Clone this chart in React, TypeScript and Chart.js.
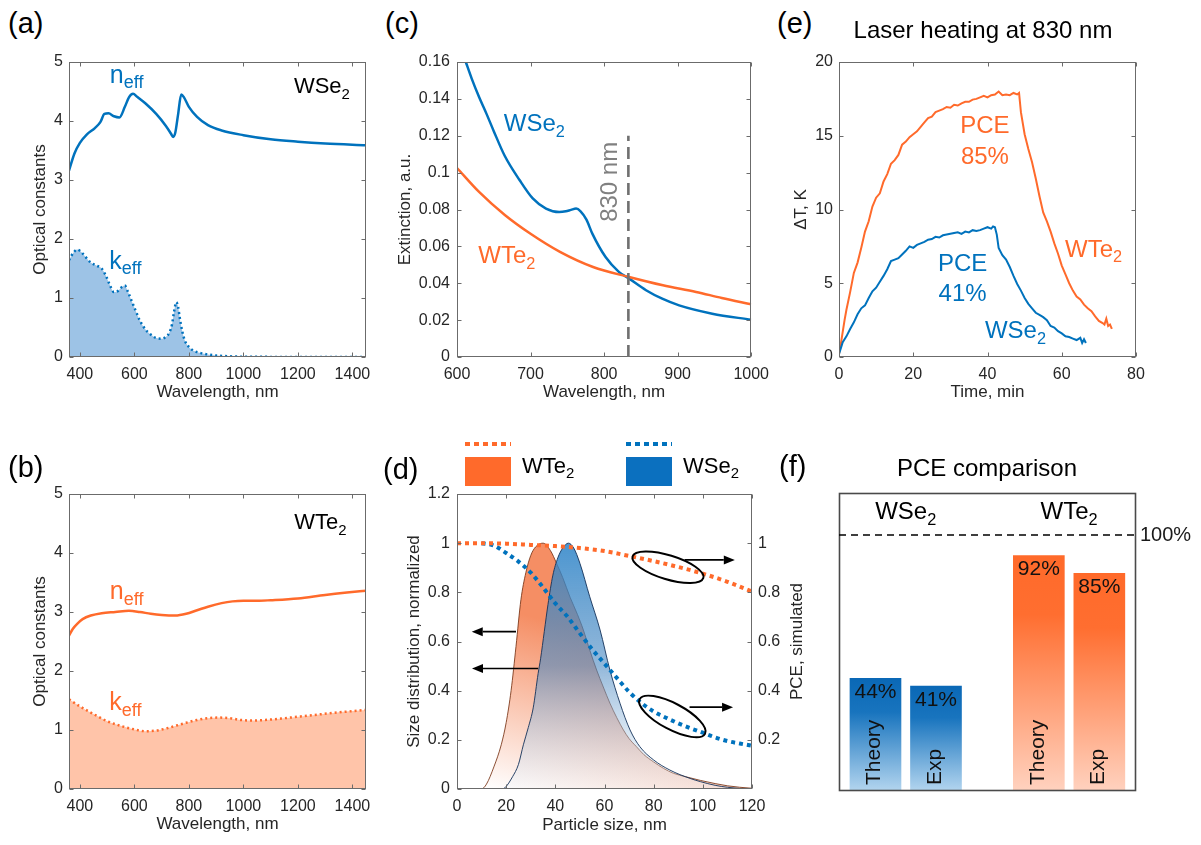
import React, { useEffect, useRef } from 'react';
import { Chart, registerables } from 'chart.js';

Chart.register(...registerables);

const FONT = "'Liberation Sans', Arial, Helvetica, sans-serif";
Chart.defaults.font.family = FONT;

const BLUE = '#0072BD';
const ORANGE = '#FF6A2B';
const AXIS = '#6b6b6b';
const TICK = '#262626';

// ---------------- (a) WSe2 optical constants ----------------
const wlNWSe2 = [360, 380, 400, 425, 455, 475, 490, 505, 525, 545, 565, 580, 595, 610, 640, 680, 715, 735, 742, 750, 760, 772, 782, 800, 830, 870, 920, 1000, 1100, 1200, 1300, 1450];
const nWSe2 = [3.16, 3.45, 3.63, 3.77, 3.88, 3.98, 4.12, 4.13, 4.08, 4.06, 4.24, 4.40, 4.46, 4.41, 4.30, 4.12, 3.92, 3.78, 3.73, 3.8, 4.1, 4.45, 4.40, 4.24, 4.07, 3.93, 3.84, 3.76, 3.69, 3.65, 3.62, 3.59];
const wlKWSe2 = [360, 375, 390, 405, 420, 440, 460, 480, 495, 510, 525, 540, 555, 565, 575, 590, 605, 620, 640, 660, 680, 700, 715, 728, 738, 746, 754, 760, 766, 775, 785, 800, 820, 850, 900, 950, 1000, 1100, 1450];
const kWSe2 = [1.64, 1.76, 1.82, 1.78, 1.70, 1.60, 1.55, 1.50, 1.38, 1.22, 1.10, 1.12, 1.19, 1.21, 1.12, 0.95, 0.78, 0.62, 0.47, 0.38, 0.32, 0.31, 0.34, 0.41, 0.55, 0.78, 0.93, 0.86, 0.68, 0.45, 0.28, 0.17, 0.1, 0.06, 0.025, 0.012, 0.005, 0.002, 0];

// ---------------- (b) WTe2 optical constants ----------------
const wlNWTe2 = [360, 375, 390, 410, 440, 480, 530, 580, 620, 660, 700, 750, 790, 830, 870, 920, 960, 1000, 1050, 1100, 1200, 1300, 1380, 1450];
const nWTe2 = [2.6, 2.72, 2.8, 2.88, 2.94, 2.98, 3.0, 3.02, 3.0, 2.97, 2.95, 2.94, 2.97, 3.03, 3.09, 3.15, 3.18, 3.19, 3.19, 3.2, 3.23, 3.29, 3.33, 3.36];
const wlKWTe2 = [360, 400, 450, 500, 550, 600, 640, 680, 720, 780, 830, 870, 910, 950, 990, 1030, 1080, 1150, 1210, 1270, 1330, 1400, 1450];
const kWTe2 = [1.52, 1.4, 1.27, 1.15, 1.07, 1.01, 0.98, 0.99, 1.03, 1.11, 1.17, 1.2, 1.21, 1.2, 1.17, 1.16, 1.17, 1.2, 1.23, 1.26, 1.29, 1.32, 1.34];

const wlTicks = [400, 600, 800, 1000, 1200, 1400];
const optTicks = [0, 1, 2, 3, 4, 5];

// ---------------- (c) extinction ----------------
const wlExtWSe2 = [605, 612, 620, 630, 640, 650, 665, 685, 703, 721, 739, 748, 755, 762, 768, 776, 784, 802, 820, 834, 857, 879, 902, 947, 1000];
const extWSe2 = [0.168, 0.160, 0.151, 0.141, 0.132, 0.1225, 0.109, 0.096, 0.086, 0.0805, 0.0786, 0.079, 0.0798, 0.0805, 0.079, 0.0745, 0.0669, 0.0542, 0.0462, 0.0425, 0.0362, 0.0316, 0.028, 0.0235, 0.0202];
const wlExtWTe2 = [600, 630, 665, 700, 740, 785, 834, 880, 925, 960, 1000];
const extWTe2 = [0.1025, 0.0895, 0.077, 0.0668, 0.057, 0.0488, 0.0434, 0.0389, 0.0353, 0.032, 0.0286];
const laserWl = 833;
const extXTicks = [600, 700, 800, 900, 1000];
const extYTicks = [0, 0.02, 0.04, 0.06, 0.08, 0.1, 0.12, 0.14, 0.16];

// ---------------- (d) size distribution and simulated PCE ----------------
const sizeWTe2 = [0, 10, 12, 15, 18, 20, 22, 24, 26, 28, 30, 32, 35, 38, 40.5, 43, 46, 49, 51.4, 54, 56.8, 59.5, 62.2, 65, 67.7, 70, 73, 76, 80, 84, 88, 93, 99, 105, 110, 115, 120];
const distWTe2 = [0, 0, 0.02, 0.09, 0.18, 0.27, 0.4, 0.58, 0.77, 0.88, 0.95, 0.985, 1.0, 0.97, 0.918, 0.86, 0.78, 0.71, 0.647, 0.565, 0.484, 0.415, 0.349, 0.29, 0.24, 0.205, 0.172, 0.14, 0.11, 0.084, 0.064, 0.05, 0.035, 0.022, 0.013, 0.007, 0.003];
const sizeWSe2 = [0, 18, 19.5, 22.6, 25, 27, 29, 31, 33, 34, 35.5, 37, 39, 41, 43, 45.3, 47.5, 50, 54, 58.2, 62.2, 66.3, 70.4, 74.4, 80, 86.6, 94.8, 99, 105, 110, 115, 120];
const distWSe2 = [0, 0, 0.005, 0.05, 0.1, 0.18, 0.25, 0.33, 0.47, 0.53, 0.64, 0.75, 0.87, 0.94, 0.98, 1.0, 0.98, 0.918, 0.782, 0.647, 0.484, 0.349, 0.24, 0.172, 0.118, 0.077, 0.043, 0.03, 0.015, 0.007, 0.002, 0];
const sizePceWTe2 = [0, 10, 20, 30, 40, 50, 60, 70, 80, 90, 100, 110, 120];
const pceSimWTe2 = [1.0, 1.0, 0.998, 0.993, 0.988, 0.98, 0.968, 0.948, 0.927, 0.903, 0.876, 0.843, 0.803];
const sizePceWSe2 = [10, 15, 20, 25, 30, 35, 40, 45, 50, 55, 60, 65, 70, 75, 80, 85, 90, 95, 100, 105, 110, 115, 120];
const pceSimWSe2 = [1.0, 0.99, 0.96, 0.925, 0.88, 0.82, 0.755, 0.7, 0.633, 0.568, 0.51, 0.452, 0.395, 0.35, 0.315, 0.29, 0.267, 0.247, 0.229, 0.21, 0.195, 0.185, 0.176];
const sizeTicks = [0, 20, 40, 60, 80, 100, 120];
const distTicks = [0, 0.2, 0.4, 0.6, 0.8, 1, 1.2];
const pceSimTicks = [0.2, 0.4, 0.6, 0.8, 1];

// ---------------- (e) laser heating ----------------
const timeWTe2 = [0, 0.5, 1, 1.5, 2, 3, 4, 5, 6, 7, 8, 9, 10, 11, 12, 13, 14, 15, 16, 17, 18, 19, 20, 21, 22, 23, 24, 25, 26, 27, 28, 29, 30, 31, 32, 33, 34, 35, 36, 37, 38, 39, 40, 41, 42, 43, 44, 45, 46, 47, 48, 48.5, 49, 50, 51, 52, 53, 54, 55, 56, 57, 58, 59, 60, 61, 62, 63, 64, 65, 66, 67, 68, 69, 70, 71, 71.5, 72, 72.5, 73, 73.5];
const dTWTe2 = [0.2, 0.9, 1.7, 2.5, 3.2, 4.4, 5.7, 6.4, 7.4, 8.5, 9.2, 10.2, 10.8, 11.1, 11.9, 12.4, 13.1, 13.35, 13.7, 14.4, 14.6, 14.9, 15.1, 15.3, 15.6, 15.9, 16.2, 16.3, 16.6, 16.7, 16.8, 16.95, 16.9, 17.1, 17.05, 17.2, 17.3, 17.3, 17.45, 17.5, 17.6, 17.7, 17.6, 17.75, 17.8, 18.0, 17.75, 17.8, 17.75, 17.9, 17.8, 17.9, 16.6, 15.1, 14.1, 13.2, 12.1, 10.9, 9.8, 9.2, 8.5, 7.7, 7.0, 6.2, 5.6, 5.0, 4.5, 4.1, 3.9, 3.55, 3.3, 3.1, 2.75, 2.45, 2.3, 2.2, 2.6, 2.1, 2.2, 1.9];
const timeWSe2 = [0, 0.5, 1, 2, 3, 4, 5, 6, 7, 8, 9, 10, 11, 12, 13, 14, 15, 16, 17, 18, 19, 20, 21, 22, 23, 24, 25, 26, 27, 28, 29, 30, 31, 32, 33, 34, 35, 36, 37, 38, 39, 40, 41, 41.5, 42, 42.5, 43, 44, 45, 46, 47, 48, 49, 50, 51, 52, 53, 54, 55, 56, 57, 58, 59, 60, 61, 62, 63, 64, 65, 65.5, 66, 66.5];
const dTWSe2 = [0.2, 0.6, 1.0, 1.4, 1.9, 2.35, 2.9, 3.3, 3.5, 4.0, 4.45, 4.7, 5.1, 5.5, 5.95, 6.5, 6.6, 6.7, 6.95, 7.2, 7.5, 7.4, 7.6, 7.7, 7.8, 7.95, 8.0, 8.15, 8.1, 8.25, 8.3, 8.35, 8.4, 8.45, 8.35, 8.5, 8.45, 8.6, 8.55, 8.6, 8.7, 8.8, 8.7, 8.85, 8.8, 8.3, 7.4, 6.9, 6.6, 6.1, 5.5, 4.95, 4.5, 4.0, 3.6, 3.3, 3.0, 2.85, 2.7, 2.5, 2.1, 2.0, 1.75, 1.6, 1.4, 1.35, 1.25, 1.15, 1.3, 0.95, 1.2, 0.95];
const timeTicks = [0, 20, 40, 60, 80];
const dTTicks = [0, 5, 10, 15, 20];

// ---------------- (f) PCE comparison ----------------
const pceMaterials = ['WSe2', 'WSe2', 'WTe2', 'WTe2'];
const pceCategories = ['Theory', 'Exp', 'Theory', 'Exp'];
const pcePositions = [0, 1, 2.7, 3.7];
const pceValues = [44, 41, 92, 85];

// ---------------- helpers ----------------
const pts = (xs: number[], ys: number[]) => xs.map((x, i) => ({ x, y: ys[i] }));
const fmt = (v: number) => String(Math.round(v * 10000) / 10000);

function axis(o: any) {
  return {
    type: 'linear',
    position: o.position,
    min: o.min,
    max: o.max,
    offset: false,
    afterBuildTicks: (s: any) => {
      s.ticks = o.ticks.map((v: number) => ({ value: v }));
    },
    ticks: {
      color: TICK,
      font: { family: FONT, size: 16 },
      padding: o.pad,
      maxRotation: 0,
      minRotation: 0,
      autoSkip: false,
      callback: (v: any) => fmt(Number(v)),
    },
    grid: { display: false, drawTicks: false },
    border: { display: false },
    title: o.title
      ? { display: true, text: o.title, color: TICK, font: { family: FONT, size: 17 }, padding: 0 }
      : { display: false },
    afterFit: (s: any) => {
      if (o.horizontal) s.height = o.size;
      else s.width = o.size;
    },
  };
}

function framePlugin(yRightId?: string) {
  return {
    id: 'frame',
    afterDatasetsDraw(chart: any) {
      const { ctx, chartArea: a, scales } = chart;
      const TL = 4;
      const L = Math.round(a.left) + 0.5;
      const R = Math.round(a.right) - 0.5;
      const T = Math.round(a.top) + 0.5;
      const B = Math.round(a.bottom) - 0.5;
      ctx.save();
      ctx.strokeStyle = AXIS;
      ctx.lineWidth = 1;
      ctx.setLineDash([]);
      ctx.strokeRect(L, T, R - L, B - T);
      ctx.beginPath();
      const xs = scales.x;
      xs.ticks.forEach((t: any) => {
        const p = Math.round(xs.getPixelForValue(t.value)) + 0.5;
        ctx.moveTo(p, B);
        ctx.lineTo(p, B - TL);
        ctx.moveTo(p, T);
        ctx.lineTo(p, T + TL);
      });
      const yl = scales.y;
      const yr = yRightId ? scales[yRightId] : yl;
      yl.ticks.forEach((t: any) => {
        const p = Math.round(yl.getPixelForValue(t.value)) + 0.5;
        ctx.moveTo(L, p);
        ctx.lineTo(L + TL, p);
      });
      yr.ticks.forEach((t: any) => {
        const p = Math.round(yr.getPixelForValue(t.value)) + 0.5;
        ctx.moveTo(R, p);
        ctx.lineTo(R - TL, p);
      });
      ctx.stroke();
      ctx.restore();
    },
  };
}

function subText(ctx: any, base: string, sub: string, x: number, y: number, size: number, color: string, align = 'left', subScale = 0.68, drop = 0.24) {
  ctx.save();
  ctx.fillStyle = color;
  ctx.textBaseline = 'alphabetic';
  ctx.textAlign = 'left';
  ctx.font = `${size}px ${FONT}`;
  const wb = ctx.measureText(base).width;
  ctx.font = `${size * subScale}px ${FONT}`;
  const ws = sub ? ctx.measureText(sub).width : 0;
  const total = wb + ws;
  const x0 = align === 'left' ? x : align === 'center' ? x - total / 2 : x - total;
  ctx.font = `${size}px ${FONT}`;
  ctx.fillText(base, x0, y);
  if (sub) {
    ctx.font = `${size * subScale}px ${FONT}`;
    ctx.fillText(sub, x0 + wb, y + size * drop);
  }
  ctx.restore();
}

function plainText(ctx: any, text: string, x: number, y: number, size: number, color: string, align = 'center', baseline = 'alphabetic') {
  ctx.save();
  ctx.fillStyle = color;
  ctx.font = `${size}px ${FONT}`;
  ctx.textAlign = align;
  ctx.textBaseline = baseline;
  ctx.fillText(text, x, y);
  ctx.restore();
}

function arrow(ctx: any, x1: number, y1: number, x2: number, y2: number) {
  const ang = Math.atan2(y2 - y1, x2 - x1);
  const hl = 11;
  const hw = 4.5;
  const c = Math.cos(ang);
  const s = Math.sin(ang);
  ctx.beginPath();
  ctx.moveTo(x1, y1);
  ctx.lineTo(x2 - hl * c, y2 - hl * s);
  ctx.stroke();
  ctx.beginPath();
  ctx.moveTo(x2, y2);
  ctx.lineTo(x2 - hl * c + hw * s, y2 - hl * s - hw * c);
  ctx.lineTo(x2 - hl * c - hw * s, y2 - hl * s + hw * c);
  ctx.closePath();
  ctx.fill();
}

const baseOptions = (padding: any, scales: any) => ({
  responsive: false,
  maintainAspectRatio: false,
  animation: false,
  events: [],
  layout: { padding },
  plugins: { legend: { display: false }, tooltip: { enabled: false }, title: { display: false } },
  scales,
  elements: { point: { radius: 0 } },
});

const lineDs = (data: any, color: string, extra: any = {}) => ({
  data,
  borderColor: color,
  borderWidth: 2.5,
  pointRadius: 0,
  fill: false,
  cubicInterpolationMode: 'monotone',
  ...extra,
});

// ---------------- panel geometry ----------------
type Geo = { L: number; T: number; R: number; B: number; yw: number; xh: number; pt: number; pr: number };
const geoA: Geo = { L: 69, T: 62, R: 366, B: 357, yw: 39, xh: 46, pt: 20, pr: 25 };
const geoB: Geo = { L: 69, T: 494, R: 366, B: 789, yw: 39, xh: 46, pt: 20, pr: 25 };
const geoC: Geo = { L: 457, T: 62, R: 752, B: 357, yw: 62, xh: 46, pt: 20, pr: 25 };
const geoD: Geo = { L: 457, T: 494, R: 752, B: 789, yw: 53, xh: 47, pt: 60, pr: 60 };
const geoE: Geo = { L: 839, T: 62, R: 1136, B: 357, yw: 48, xh: 46, pt: 20, pr: 25 };
const geoF: Geo = { L: 839, T: 493, R: 1136, B: 791, yw: 10, xh: 10, pt: 10, pr: 62 };

// ---------------- chart builders ----------------
function buildOptical(which: 'a' | 'b') {
  const isA = which === 'a';
  const color = isA ? BLUE : ORANGE;
  const fillColor = isA ? '#9DC3E6' : '#FFC4A9';
  const g = isA ? geoA : geoB;
  const kData = isA ? pts(wlKWSe2, kWSe2) : pts(wlKWTe2, kWTe2);
  const nData = isA ? pts(wlNWSe2, nWSe2) : pts(wlNWTe2, nWTe2);
  const ann = {
    id: 'ann',
    afterDraw(chart: any) {
      const { ctx, scales } = chart;
      const X = (v: number) => scales.x.getPixelForValue(v);
      const Y = (v: number) => scales.y.getPixelForValue(v);
      if (isA) {
        subText(ctx, 'n', 'eff', X(510), Y(4.65), 25, color, 'left', 0.72, 0.23);
        subText(ctx, 'k', 'eff', X(508), Y(1.5), 25, color, 'left', 0.72, 0.23);
        subText(ctx, 'WSe', '2', X(1391), Y(4.47), 22, '#000', 'right');
      } else {
        subText(ctx, 'n', 'eff', X(510), Y(3.215), 25, color, 'left', 0.72, 0.23);
        subText(ctx, 'k', 'eff', X(508), Y(1.34), 25, color, 'left', 0.72, 0.23);
        subText(ctx, 'WTe', '2', X(1379), Y(4.4), 22, '#000', 'right');
      }
    },
  };
  return {
    type: 'line',
    data: {
      datasets: [
        lineDs(kData, color, { borderDash: [2, 3], fill: 'origin', backgroundColor: fillColor, borderWidth: 2.5 }),
        lineDs(nData, color),
      ],
    },
    options: baseOptions({ top: g.pt, right: g.pr, left: 0, bottom: 0 }, {
      x: axis({ min: 360, max: 1450, ticks: wlTicks, title: 'Wavelength, nm', size: g.xh, horizontal: true, position: 'bottom', pad: 8 }),
      y: axis({ min: 0, max: 5, ticks: optTicks, title: 'Optical constants', size: g.yw, horizontal: false, position: 'left', pad: 6 }),
    }),
    plugins: [framePlugin(), ann],
  };
}

function buildExtinction() {
  const g = geoC;
  const ann = {
    id: 'ann',
    afterDraw(chart: any) {
      const { ctx, scales } = chart;
      const X = (v: number) => scales.x.getPixelForValue(v);
      const Y = (v: number) => scales.y.getPixelForValue(v);
      ctx.save();
      ctx.strokeStyle = '#707070';
      ctx.lineWidth = 2.6;
      ctx.setLineDash([12, 6]);
      ctx.beginPath();
      ctx.moveTo(X(laserWl), Y(0));
      ctx.lineTo(X(laserWl), Y(0.12));
      ctx.stroke();
      ctx.restore();
      ctx.save();
      ctx.translate(X(808.4), Y(0.095));
      ctx.rotate(-Math.PI / 2);
      plainText(ctx, '830 nm', 0, 0, 24, '#808080', 'center', 'middle');
      ctx.restore();
      subText(ctx, 'WSe', '2', X(663.7), Y(0.1227), 24, BLUE, 'left');
      subText(ctx, 'WTe', '2', X(628.9), Y(0.0508), 24, ORANGE, 'left');
    },
  };
  return {
    type: 'line',
    data: {
      datasets: [lineDs(pts(wlExtWTe2, extWTe2), ORANGE), lineDs(pts(wlExtWSe2, extWSe2), BLUE)],
    },
    options: baseOptions({ top: g.pt, right: g.pr, left: 0, bottom: 0 }, {
      x: axis({ min: 600, max: 1000, ticks: extXTicks, title: 'Wavelength, nm', size: g.xh, horizontal: true, position: 'bottom', pad: 8 }),
      y: axis({ min: 0, max: 0.16, ticks: extYTicks, title: 'Extinction, a.u.', size: g.yw, horizontal: false, position: 'left', pad: 7 }),
    }),
    plugins: [framePlugin(), ann],
  };
}

function buildSize() {
  const g = geoD;
  const orangeFill = (c: any) => {
    const ch = c.chart;
    if (!ch.chartArea) return 'rgba(0,0,0,0)';
    const xs = ch.scales.x;
    const ys = ch.scales.y;
    const gr = ch.ctx.createLinearGradient(xs.getPixelForValue(12), ys.getPixelForValue(0), xs.getPixelForValue(31), ys.getPixelForValue(0.7));
    gr.addColorStop(0, 'rgba(255,255,255,1)');
    gr.addColorStop(1, '#F58E64');
    return gr;
  };
  const blueFill = (c: any) => {
    const ch = c.chart;
    if (!ch.chartArea) return 'rgba(0,0,0,0)';
    const ys = ch.scales.y;
    const gr = ch.ctx.createLinearGradient(0, ys.getPixelForValue(1), 0, ys.getPixelForValue(0));
    gr.addColorStop(0, 'rgba(45,132,200,0.86)');
    gr.addColorStop(0.5, 'rgba(80,140,195,0.62)');
    gr.addColorStop(1, 'rgba(240,246,252,0.3)');
    return gr;
  };
  const ann = {
    id: 'ann',
    afterDraw(chart: any) {
      const { ctx, scales, chartArea: a } = chart;
      const X = (v: number) => scales.x.getPixelForValue(v);
      const Y = (v: number) => scales.y.getPixelForValue(v);
      ctx.save();
      ctx.strokeStyle = '#000';
      ctx.fillStyle = '#000';
      ctx.lineWidth = 1.6;
      arrow(ctx, X(24), Y(0.64), X(6), Y(0.64));
      arrow(ctx, X(33), Y(0.49), X(6.1), Y(0.49));
      arrow(ctx, X(92.6), Y(0.932), X(113), Y(0.932));
      arrow(ctx, X(94.6), Y(0.333), X(112.3), Y(0.333));
      ctx.lineWidth = 2;
      ctx.beginPath();
      ctx.ellipse(X(85.8), Y(0.902), 37, 12, (17 * Math.PI) / 180, 0, Math.PI * 2);
      ctx.stroke();
      ctx.beginPath();
      ctx.ellipse(X(87.6), Y(0.295), 37, 13, (28 * Math.PI) / 180, 0, Math.PI * 2);
      ctx.stroke();
      ctx.restore();

      // legend above the plot
      const ly = a.top - 50;
      const legendItems = [
        { dx: 8, line: ORANGE, box: ORANGE, base: 'WTe' },
        { dx: 169, line: BLUE, box: '#0B70BF', base: 'WSe' },
      ];
      legendItems.forEach((it) => {
        const x0 = a.left + it.dx;
        ctx.save();
        ctx.strokeStyle = it.line;
        ctx.lineWidth = 4;
        ctx.setLineDash([5, 4]);
        ctx.beginPath();
        ctx.moveTo(x0, ly);
        ctx.lineTo(x0 + 46, ly);
        ctx.stroke();
        ctx.fillStyle = it.box;
        ctx.fillRect(x0, a.top - 37, 46, 29);
        ctx.restore();
        subText(ctx, it.base, '2', x0 + 57, a.top - 21, 22, '#000', 'left');
      });

      // right axis title, reading bottom-to-top
      ctx.save();
      ctx.translate(a.right + 45.5, (a.top + a.bottom) / 2);
      ctx.rotate(-Math.PI / 2);
      plainText(ctx, 'PCE, simulated', 0, 0, 17, TICK, 'center', 'middle');
      ctx.restore();
    },
  };
  return {
    type: 'line',
    data: {
      datasets: [
        lineDs(pts(sizeWTe2, distWTe2), 'rgba(120,50,20,0.85)', { borderWidth: 1, fill: 'origin', backgroundColor: orangeFill, order: 2, yAxisID: 'y' }),
        lineDs(pts(sizeWSe2, distWSe2), 'rgba(20,50,90,0.9)', { borderWidth: 1, fill: 'origin', backgroundColor: blueFill, order: 1, yAxisID: 'y' }),
        lineDs(pts(sizePceWTe2, pceSimWTe2), ORANGE, { borderWidth: 4, borderDash: [4, 4], borderCapStyle: 'butt', order: 0, yAxisID: 'y1' }),
        lineDs(pts(sizePceWSe2, pceSimWSe2), BLUE, { borderWidth: 4, borderDash: [4, 4], borderCapStyle: 'butt', order: 0, yAxisID: 'y1' }),
      ],
    },
    options: baseOptions({ top: g.pt, right: 0, left: 0, bottom: 0 }, {
      x: axis({ min: 0, max: 120, ticks: sizeTicks, title: 'Particle size, nm', size: g.xh, horizontal: true, position: 'bottom', pad: 8 }),
      y: axis({ min: 0, max: 1.2, ticks: distTicks, title: 'Size distribution, normalized', size: g.yw, horizontal: false, position: 'left', pad: 7 }),
      y1: axis({ min: 0, max: 1.2, ticks: pceSimTicks, title: '', size: g.pr, horizontal: false, position: 'right', pad: 6 }),
    }),
    plugins: [framePlugin('y1'), ann],
  };
}

function buildHeating() {
  const g = geoE;
  const ann = {
    id: 'ann',
    afterDraw(chart: any) {
      const { ctx, scales } = chart;
      const X = (v: number) => scales.x.getPixelForValue(v);
      const Y = (v: number) => scales.y.getPixelForValue(v);
      plainText(ctx, 'PCE', X(39.3), Y(15.2), 24, ORANGE);
      plainText(ctx, '85%', X(39.3), Y(13.1), 24, ORANGE);
      plainText(ctx, 'PCE', X(33.3), Y(5.85), 24, BLUE);
      plainText(ctx, '41%', X(33.3), Y(3.8), 24, BLUE);
      subText(ctx, 'WTe', '2', X(60.9), Y(6.8), 24, ORANGE, 'left');
      subText(ctx, 'WSe', '2', X(39.3), Y(1.27), 24, BLUE, 'left');
    },
  };
  return {
    type: 'line',
    data: {
      datasets: [
        lineDs(pts(timeWSe2, dTWSe2), BLUE, { borderWidth: 2, tension: 0, cubicInterpolationMode: 'default' }),
        lineDs(pts(timeWTe2, dTWTe2), ORANGE, { borderWidth: 2, tension: 0, cubicInterpolationMode: 'default' }),
      ],
    },
    options: baseOptions({ top: g.pt, right: g.pr, left: 0, bottom: 0 }, {
      x: axis({ min: 0, max: 80, ticks: timeTicks, title: 'Time, min', size: g.xh, horizontal: true, position: 'bottom', pad: 8 }),
      y: axis({ min: 0, max: 20, ticks: dTTicks, title: '\u0394T, K', size: g.yw, horizontal: false, position: 'left', pad: 6 }),
    }),
    plugins: [framePlugin(), ann],
  };
}

function buildPce() {
  const g = geoF;
  const barFill = (c: any) => {
    const ch = c.chart;
    if (!ch.chartArea || !c.raw) return '#888';
    const ys = ch.scales.y;
    const top = ys.getPixelForValue(c.raw.y);
    const bot = ys.getPixelForValue(0);
    const gr = ch.ctx.createLinearGradient(0, top, 0, bot);
    if (pceMaterials[c.dataIndex] === 'WSe2') {
      gr.addColorStop(0, '#0A68B6');
      gr.addColorStop(0.3, '#1874BE');
      gr.addColorStop(1, '#B3D5EF');
    } else {
      gr.addColorStop(0, '#FF6A2A');
      gr.addColorStop(0.25, '#FF6E30');
      gr.addColorStop(1, '#FFD2BF');
    }
    return gr;
  };
  const ann = {
    id: 'ann',
    afterDatasetsDraw(chart: any) {
      const { ctx, scales, chartArea: a } = chart;
      const X = (v: number) => scales.x.getPixelForValue(v);
      const Y = (v: number) => scales.y.getPixelForValue(v);
      ctx.save();
      ctx.strokeStyle = '#4a4a4a';
      ctx.lineWidth = 1.6;
      ctx.strokeRect(Math.round(a.left) + 0.5, Math.round(a.top) + 0.5, Math.round(a.right - a.left) - 1, Math.round(a.bottom - a.top) - 1);
      ctx.strokeStyle = '#000';
      ctx.lineWidth = 1.5;
      ctx.setLineDash([7, 5]);
      ctx.beginPath();
      ctx.moveTo(a.left, Y(1));
      ctx.lineTo(a.right, Y(1));
      ctx.stroke();
      ctx.restore();
      plainText(ctx, '100%', a.right + 4, Y(1), 20, '#1a1a1a', 'left', 'middle');
      const groups = ['WSe2', 'WTe2'];
      groups.forEach((m) => {
        const idx = pceMaterials.map((mm, i) => (mm === m ? i : -1)).filter((i) => i >= 0);
        const cx = idx.reduce((s, i) => s + pcePositions[i], 0) / idx.length;
        subText(ctx, m.slice(0, 3), '2', X(cx), Y(1.061), 24, '#000', 'center');
      });
      const meta = chart.getDatasetMeta(0);
      meta.data.forEach((el: any, i: number) => {
        plainText(ctx, `${pceValues[i]}%`, el.x, el.y + 20, 21, '#111', 'center', 'alphabetic');
        ctx.save();
        ctx.translate(el.x - 1, Y(0) - 6);
        ctx.rotate(-Math.PI / 2);
        plainText(ctx, pceCategories[i], 0, 0, 21, '#111', 'left', 'middle');
        ctx.restore();
      });
    },
  };
  return {
    type: 'bar',
    data: {
      datasets: [
        {
          data: pcePositions.map((x, i) => ({ x, y: pceValues[i] / 100 })),
          backgroundColor: barFill,
          borderWidth: 0,
          barThickness: 51,
        },
      ],
    },
    options: baseOptions({ top: g.pt, right: g.pr, left: g.yw, bottom: g.xh }, {
      x: { type: 'linear', min: -0.603, max: 4.306, display: false, offset: false, grid: { offset: false } },
      y: { type: 'linear', min: 0, max: 1.164, display: false },
    }),
    plugins: [ann],
  };
}

// ---------------- components ----------------
function ChartPanel({ geo, build }: { geo: Geo; build: () => any }) {
  const ref = useRef<HTMLCanvasElement>(null);
  const left = geo.L - geo.yw;
  const top = geo.T - geo.pt;
  const width = geo.R - geo.L + geo.yw + geo.pr;
  const height = geo.B - geo.T + geo.pt + geo.xh;
  useEffect(() => {
    const chart = new Chart(ref.current as HTMLCanvasElement, build() as any);
    return () => chart.destroy();
  }, []);
  return (
    <canvas
      ref={ref}
      width={width}
      height={height}
      style={{ position: 'absolute', left, top, width, height }}
    />
  );
}

function Label({ text, x, cy, size, center = false }: { text: string; x: number; cy: number; size: number; center?: boolean }) {
  return (
    <div
      style={{
        position: 'absolute',
        left: x,
        top: cy - size * 0.49,
        fontSize: size,
        lineHeight: 1,
        fontFamily: FONT,
        color: '#000',
        whiteSpace: 'nowrap',
        transform: center ? 'translateX(-50%)' : undefined,
      }}
    >
      {text}
    </div>
  );
}

export default function App() {
  return (
    <div style={{ position: 'absolute', left: 0, top: 0, width: 1201, height: 845, overflow: 'hidden', background: '#fff' }}>
      <ChartPanel geo={geoA} build={() => buildOptical('a')} />
      <ChartPanel geo={geoB} build={() => buildOptical('b')} />
      <ChartPanel geo={geoC} build={buildExtinction} />
      <ChartPanel geo={geoD} build={buildSize} />
      <ChartPanel geo={geoE} build={buildHeating} />
      <ChartPanel geo={geoF} build={buildPce} />
      <Label text="(a)" x={8} cy={23} size={29} />
      <Label text="(b)" x={8} cy={467} size={29} />
      <Label text="(c)" x={385} cy={23} size={29} />
      <Label text="(d)" x={383} cy={469} size={29} />
      <Label text="(e)" x={777} cy={23} size={29} />
      <Label text="(f)" x={779} cy={466} size={29} />
      <Label text="Laser heating at 830 nm" x={983} cy={29.5} size={24} center />
      <Label text="PCE comparison" x={987} cy={468} size={24} center />
    </div>
  );
}
